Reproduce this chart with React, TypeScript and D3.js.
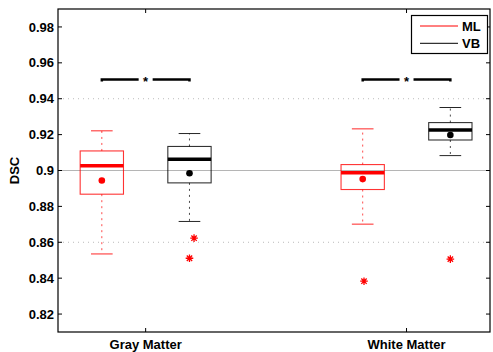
import React from "react";
import * as d3 from "d3";

const categories = ["Gray Matter", "White Matter"];
const methods = ["ML", "VB"];
const methodColors = ["#ff0000", "#000000"];

// [whiskerLow, q1, median, q3, whiskerHigh] per category, per method
const mlStats = [
  [0.8535, 0.8868, 0.9026, 0.9109, 0.9221],
  [0.8701, 0.8894, 0.8987, 0.9033, 0.9232],
];
const vbStats = [
  [0.8716, 0.8931, 0.9063, 0.9134, 0.9206],
  [0.9083, 0.917, 0.9226, 0.9267, 0.9351],
];
const mlMeans = [0.8944, 0.8952];
const vbMeans = [0.8985, 0.9198];
const mlOutliers = [[], [0.8383]];
const vbOutliers = [[0.8623, 0.8511], [0.8506]];
const vbOutlierJitter = [[0.035, 0], [0]];
const mlOutlierJitter = [[], [0.01]];
const sigLevel = [0.9507, 0.9507];
const yTicks = [0.82, 0.84, 0.86, 0.88, 0.9, 0.92, 0.94, 0.96, 0.98];
const dottedGrid = [0.86, 0.94];
const solidGrid = [0.9];

const W = 493;
const H = 352;
const m = { left: 58, right: 3, top: 9, bottom: 20 };
const font = "'Liberation Sans', Arial, sans-serif";

const App = () => {
  const x = d3.scaleLinear().domain([0.664, 2.32]).range([m.left, W - m.right]);
  const y = d3.scaleLinear().domain([0.81, 0.99]).range([H - m.bottom, m.top]);
  const offset = 0.168;
  const boxW = x(0.166) - x(0);
  const capW = boxW / 2;

  const stats = [mlStats, vbStats];
  const means = [mlMeans, vbMeans];
  const outliers = [mlOutliers, vbOutliers];
  const jitter = [mlOutlierJitter, vbOutlierJitter];

  const star = (cx: number, cy: number, key: string) => {
    const r = 3.8;
    const d = [0, 45, 90, 135]
      .map((a) => {
        const t = (a * Math.PI) / 180;
        return `M${cx - r * Math.cos(t)},${cy - r * Math.sin(t)}L${cx + r * Math.cos(t)},${cy + r * Math.sin(t)}`;
      })
      .join("");
    return <path key={key} d={d} stroke="#ff0000" strokeWidth={1.3} fill="none" />;
  };

  return (
    <svg width={W} height={H} style={{ position: "absolute", left: 0, top: 0 }}>
      <rect width={W} height={H} fill="#fff" />
      {/* grid */}
      {dottedGrid.map((v) => (
        <line key={"dg" + v} x1={m.left} x2={W - m.right} y1={y(v)} y2={y(v)} stroke="#bbb" strokeDasharray="1,4" />
      ))}
      {solidGrid.map((v) => (
        <line key={"sg" + v} x1={m.left} x2={W - m.right} y1={y(v)} y2={y(v)} stroke="#b5b5b5" strokeWidth={1.2} />
      ))}

      {/* boxes */}
      {categories.map((c, ci) =>
        methods.map((mt, mi) => {
          const [lo, q1, med, q3, hi] = stats[mi][ci];
          const cx = x(ci + 1 + (mi === 0 ? -offset : offset));
          const col = methodColors[mi];
          return (
            <g key={c + mt}>
              <line x1={cx} x2={cx} y1={y(q3)} y2={y(hi)} stroke={col} strokeDasharray="2,4" opacity={0.7} />
              <line x1={cx} x2={cx} y1={y(q1)} y2={y(lo)} stroke={col} strokeDasharray="2,4" opacity={0.7} />
              <line x1={cx - capW / 2} x2={cx + capW / 2} y1={y(hi)} y2={y(hi)} stroke={col} opacity={0.85} />
              <line x1={cx - capW / 2} x2={cx + capW / 2} y1={y(lo)} y2={y(lo)} stroke={col} opacity={0.85} />
              <rect x={cx - boxW / 2} y={y(q3)} width={boxW} height={y(q1) - y(q3)} fill="none" stroke={col} strokeWidth={1.1} opacity={0.8} />
              <line x1={cx - boxW / 2} x2={cx + boxW / 2} y1={y(med)} y2={y(med)} stroke={col} strokeWidth={3.5} />
              <circle cx={cx} cy={y(means[mi][ci])} r={3.3} fill={col} />
              {outliers[mi][ci].map((v, oi) =>
                star(x(ci + 1 + (mi === 0 ? -offset : offset) + jitter[mi][ci][oi] * 0.5), y(v), c + mt + oi)
              )}
            </g>
          );
        })
      )}

      {/* significance bars */}
      {categories.map((c, ci) => {
        const x1 = x(ci + 1 - offset);
        const x2 = x(ci + 1 + offset);
        const xc = x(ci + 1);
        const yy = y(sigLevel[ci]);
        return (
          <g key={"sig" + c}>
            <path d={`M${x1},${yy + 2}V${yy}H${xc - 7}`} stroke="#000" strokeWidth={2.5} fill="none" />
            <path d={`M${xc + 7},${yy}H${x2}V${yy + 2}`} stroke="#000" strokeWidth={2.5} fill="none" />
            <text x={xc} y={yy + 6} textAnchor="middle" fontFamily={font} fontWeight="bold" fontSize={13}>
              *
            </text>
          </g>
        );
      })}

      {/* frame and ticks */}
      <rect x={m.left} y={m.top} width={W - m.left - m.right} height={H - m.top - m.bottom} fill="none" stroke="#000" strokeWidth={1.2} />
      {yTicks.map((t) => (
        <g key={"yt" + t}>
          <line x1={m.left} x2={m.left + 4} y1={y(t)} y2={y(t)} stroke="#000" />
          <line x1={W - m.right - 4} x2={W - m.right} y1={y(t)} y2={y(t)} stroke="#000" />
          <text x={m.left - 4} y={y(t) + 4.6} textAnchor="end" fontFamily={font} fontWeight="bold" fontSize={13}>
            {d3.format("")(t)}
          </text>
        </g>
      ))}
      {categories.map((c, ci) => (
        <g key={"xt" + c}>
          <line x1={x(ci + 1)} x2={x(ci + 1)} y1={H - m.bottom} y2={H - m.bottom - 4} stroke="#000" />
          <line x1={x(ci + 1)} x2={x(ci + 1)} y1={m.top} y2={m.top + 4} stroke="#000" />
          <text x={x(ci + 1)} y={H - m.bottom + 17} textAnchor="middle" fontFamily={font} fontWeight="bold" fontSize={13}>
            {c}
          </text>
        </g>
      ))}
      <text transform={`translate(19,${(m.top + H - m.bottom) / 2}) rotate(-90)`} textAnchor="middle" fontFamily={font} fontWeight="bold" fontSize={13}>
        DSC
      </text>

      {/* legend */}
      <g>
        <rect x={411.5} y={15.5} width={76} height={38} fill="#fff" stroke="#000" strokeWidth={1.2} />
        {methods.map((mt, mi) => (
          <g key={"lg" + mt}>
            <line x1={420} x2={458} y1={26 + mi * 17.3} y2={26 + mi * 17.3} stroke={methodColors[mi]} />
            <text x={462} y={30.6 + mi * 17.3} fontFamily={font} fontWeight="bold" fontSize={13}>
              {mt}
            </text>
          </g>
        ))}
      </g>
    </svg>
  );
};

export default App;
